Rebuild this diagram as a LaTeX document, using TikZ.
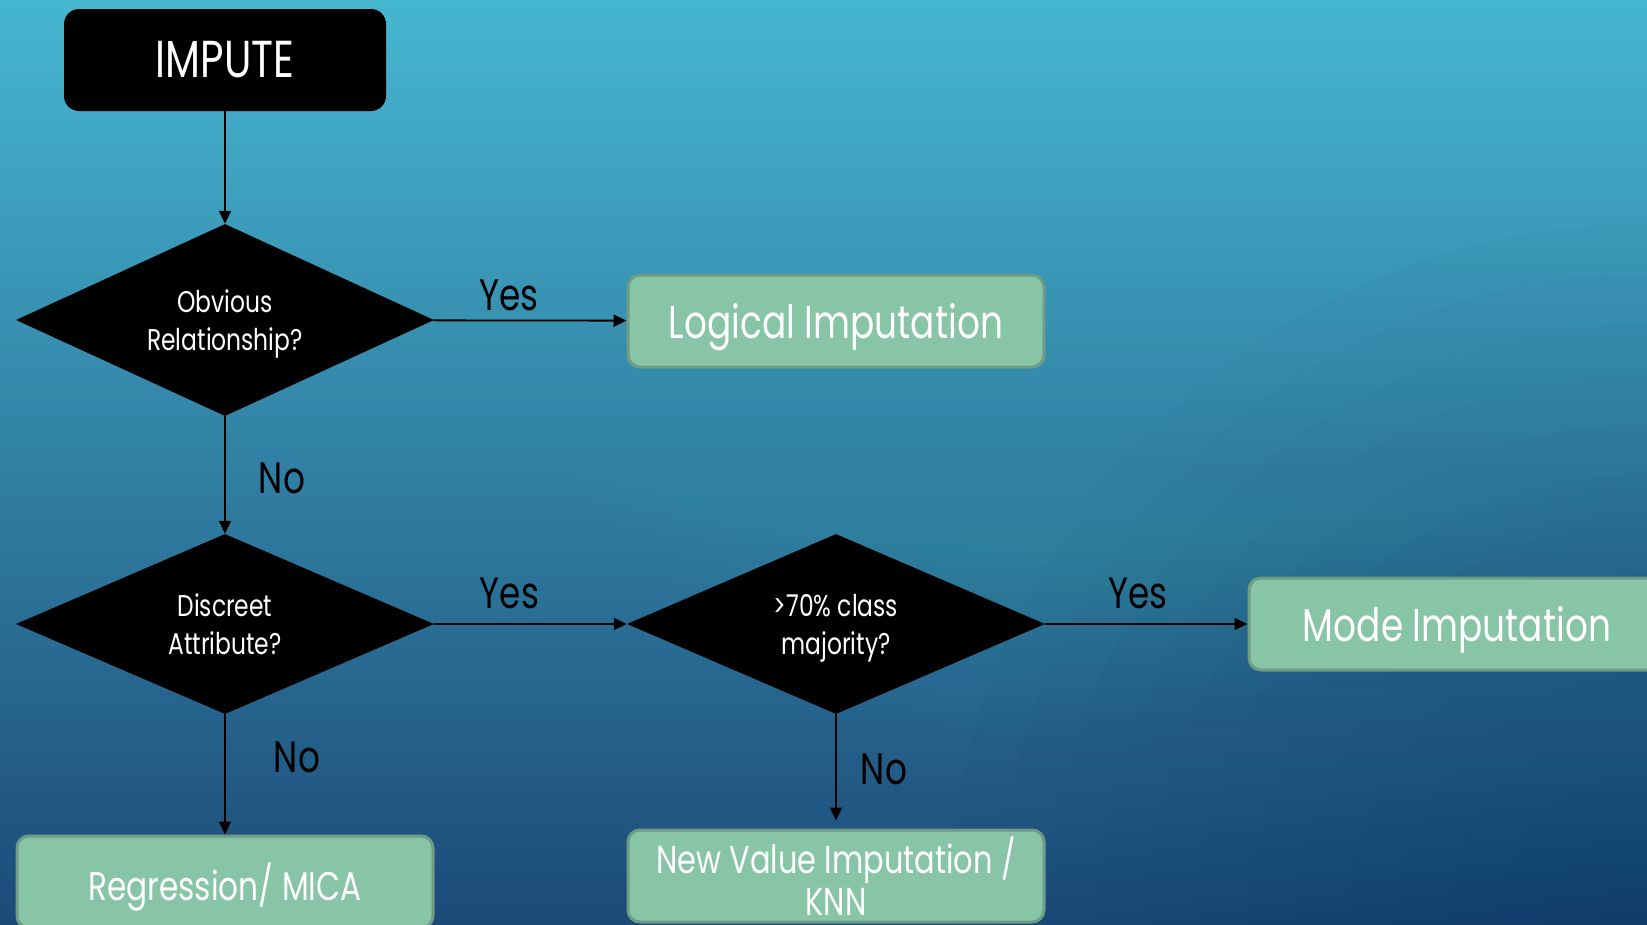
\documentclass[tikz,border=0pt]{standalone}
\usepackage{fontspec}
\setmainfont{Poppins}[FakeStretch=0.78]
\usetikzlibrary{shapes.geometric,arrows.meta,positioning}
\definecolor{skytop}{HTML}{46B7D0}
\definecolor{skyglow}{HTML}{72D4E6}
\definecolor{seamid}{HTML}{2C8BAE}
\definecolor{deepnavy}{HTML}{1C4A78}
\definecolor{darknavy}{HTML}{12284F}
\definecolor{mintfill}{HTML}{88C4A6}
\definecolor{mintline}{HTML}{6E9C85}

\tikzset{
  startbox/.style={rectangle, rounded corners=15pt, fill=black, text=white,
    minimum width=322pt, minimum height=102pt, inner sep=0pt,
    font=\fontsize{52}{52}\selectfont},
  decision/.style={diamond, aspect=2.2, fill=black, text=white, inner sep=0pt,
    align=center, text depth=0pt, minimum width=418pt,
    font=\fontsize{30}{38}\selectfont},
  outcome/.style={rectangle, rounded corners=12pt, fill=mintfill, draw=mintline,
    line width=3pt, text=white, align=center, text depth=0pt,
    minimum width=416pt, minimum height=92pt, inner sep=0pt},
  flow/.style={-{Triangle[length=13pt,width=12pt]}, line width=1.8pt},
  lbl/.style={font=\fontsize{44}{44}\selectfont, inner sep=0pt}
}

\begin{document}
\begin{tikzpicture}[x=1pt, y=-1pt]
    \useasboundingbox (0,0) rectangle (1647,924);

    \begin{scope}
    \clip (0,0) rectangle (1647,924);
    % background
    \shade[top color=skytop, middle color=seamid, bottom color=deepnavy]
      (0,0) rectangle (1647,924);
    \foreach \r in {50,75,...,650}
      \fill[skyglow, opacity=0.012] (1100,90) circle (\r);
    \foreach \r in {50,100,...,700}
      \fill[darknavy, opacity=0.02] (1647,924) circle (\r);

    % nodes
    \node[startbox] (impute) at (225,60) {IMPUTE};
    \node[decision, minimum height=192pt] (obvious) at (225,320) {Obvious\\Relationship?};
    \node[decision, minimum height=180pt] (discreet) at (225,624) {Discreet\\Attribute?};
    \node[decision, minimum height=180pt] (majority) at (836,624) {>70\% class\\majority?};
    \node[outcome, font=\fontsize{46}{52}\selectfont] (logical) at (836,321) {Logical Imputation};
    \node[outcome, font=\fontsize{46}{52}\selectfont] (mode) at (1457,624) {Mode Imputation};
    \node[outcome, font=\fontsize{40}{44}\selectfont] (regression) at (225,882) {Regression/ MICA};
    \node[outcome, font=\fontsize{39}{42}\selectfont] (newvalue) at (836,876) {New Value Imputation /\\KNN};

    % connectors
    \draw[flow] (impute) -- (obvious);
    \draw[flow] (obvious) -- node[lbl, pos=0.39, above=9pt] {Yes} (logical);
    \draw[flow] (obvious) -- node[lbl, pos=0.525, right=33pt] {No} (discreet);
    \draw[flow] (discreet) -- node[lbl, pos=0.39, above=14pt] {Yes} (majority);
    \draw[flow] (majority) -- node[lbl, pos=0.46, above=14pt] {Yes} (mode);
    \draw[flow] (discreet) -- node[lbl, pos=0.36, right=48pt] {No} (regression);
    \draw[flow, shorten >=8pt] (majority) -- node[lbl, pos=0.48, right=24pt] {No} (newvalue);
    \end{scope}
\end{tikzpicture}
\end{document}
